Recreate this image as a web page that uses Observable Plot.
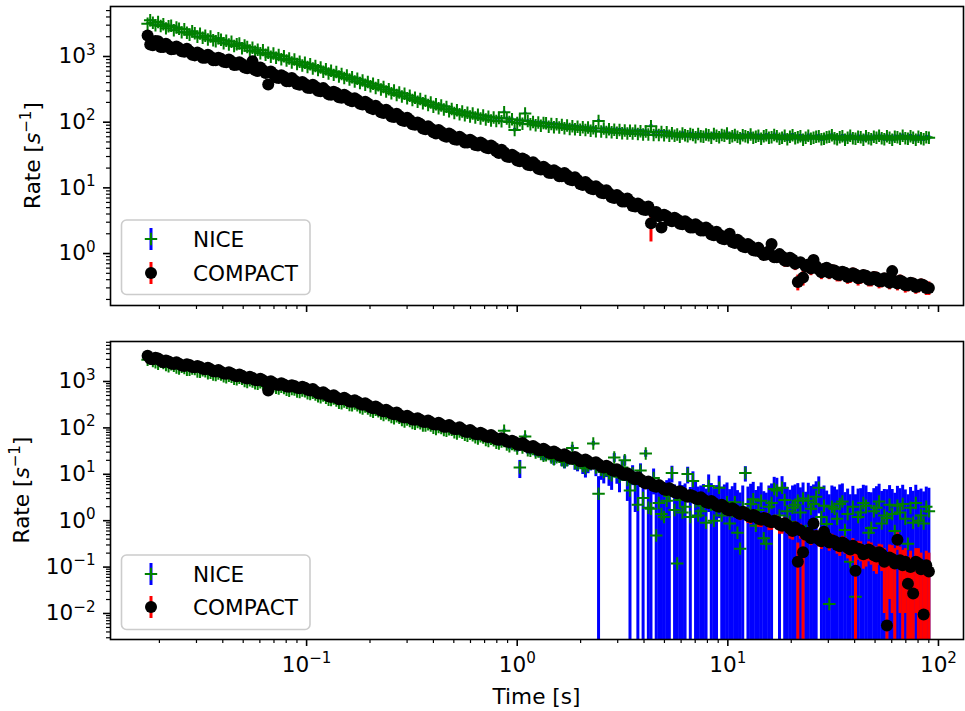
<!DOCTYPE html>
<html><head><meta charset="utf-8">
<script src="https://cdn.jsdelivr.net/npm/d3@7"></script>
<script src="https://cdn.jsdelivr.net/npm/@observablehq/plot@0.6"></script>
<style>
html,body{margin:0;padding:0;background:#fff;}
#chart{position:relative;width:965px;height:711px;}
#chart svg{display:block;}
</style></head><body><div id="chart"></div>
<script>
// ---------- data ----------
const times = [
0.01758,0.01809,0.01862,0.01916,0.01972,0.02029,0.02088,0.02149,0.02211,0.02275,
0.02342,0.02410,0.02480,0.02552,0.02626,0.02702,0.02781,0.02862,0.02945,0.03031,
0.03119,0.03210,0.03303,0.03399,0.03498,0.03600,0.03704,0.03812,0.03923,0.04037,
0.04154,0.04275,0.04399,0.04527,0.04659,0.04794,0.04934,0.05077,0.05225,0.05377,
0.05533,0.05694,0.05860,0.06030,0.06205,0.06385,0.06572,0.06763,0.06959,0.07161,
0.07370,0.07584,0.07805,0.08032,0.08265,0.08505,0.08753,0.09008,0.09269,0.09539,
0.09816,0.1010,0.1040,0.1070,0.1101,0.1133,0.1166,0.1200,0.1235,0.1271,
0.1307,0.1345,0.1384,0.1424,0.1466,0.1509,0.1553,0.1598,0.1644,0.1692,
0.1741,0.1792,0.1844,0.1898,0.1953,0.2010,0.2068,0.2128,0.2190,0.2254,
0.2319,0.2386,0.2456,0.2527,0.2601,0.2677,0.2754,0.2834,0.2917,0.3002,
0.3089,0.3179,0.3271,0.3366,0.3464,0.3565,0.3668,0.3775,0.3885,0.3998,
0.4114,0.4234,0.4357,0.4484,0.4614,0.4748,0.4886,0.5028,0.5174,0.5324,
0.5480,0.5639,0.5803,0.5972,0.6145,0.6324,0.6508,0.6697,0.6892,0.7092,
0.7299,0.7511,0.7729,0.7954,0.8185,0.8423,0.8668,0.8920,0.9180,0.9447,
0.9721,1.000,1.029,1.059,1.090,1.122,1.155,1.189,1.223,1.259,
1.295,1.333,1.371,1.411,1.452,1.494,1.538,1.583,1.629,1.676,
1.725,1.775,1.827,1.880,1.934,1.990,2.048,2.108,2.169,2.232,
2.297,2.364,2.433,2.504,2.576,2.651,2.728,2.807,2.889,2.973,
3.060,3.149,3.240,3.334,3.431,3.531,3.634,3.740,3.848,3.960,
4.075,4.194,4.316,4.442,4.570,4.703,4.840,4.981,5.126,5.275,
5.428,5.586,5.749,5.916,6.088,6.265,6.447,6.634,6.828,7.027,
7.230,7.440,7.657,7.880,8.109,8.345,8.587,8.837,9.094,9.358,
9.630,9.910,10.20,10.50,10.80,11.11,11.44,11.77,12.11,12.46,
12.83,13.20,13.58,13.97,14.39,14.81,15.23,15.67,16.13,16.60,
17.09,17.59,18.09,18.62,19.16,19.72,20.29,20.88,21.49,22.11,
22.76,23.42,24.10,24.80,25.52,26.26,27.03,27.82,28.62,29.45,
30.31,31.19,32.10,33.03,33.99,34.98,36.00,37.05,38.12,39.23,
40.37,41.54,42.75,43.99,45.28,46.60,47.95,49.34,50.78,52.26,
53.77,55.33,56.94,58.60,60.30,62.05,63.86,65.72,67.63,69.60,
71.62,73.70,75.84,78.05,80.32,82.66,85.06,87.53,
90.08];

// top panel, NICE (green +, blue error bars)
const niceTop = [
3150,3560,3270,2980,3340,2910,3100,2680,2890,2940,
2500,2760,2640,2330,2600,2290,2150,2420,2260,1990,
2230,1930,2070,1810,2010,1770,1700,1890,1800,1590,
1740,1520,1680,1450,1530,1580,1330,1470,1390,1220,
1360,1180,1270,1120,1250,1060,1140,990,1110,960,
1050,910,1010,870,930,810,900,770,830,730,
800,690,760,655,715,620,680,585,640,550,
605,525,580,495,540,470,515,445,485,415,
460,395,430,372,410,352,384,332,365,314,
342,293,318,276,304,260,284,246,271,232,
253,217,236,205,226,194,211,183,200,172,
188,163,179,156,171,146,159,138,152,132,
145,127,139,122,136,118,130,114,126,110,
121,106,118,104,116,103,142,114,101,111,
76,97,107,95,136,104,93,101,90,99,
88,97,96,85,94,84,93,83,91,81,
89,79,87,78,85,77,84,76,83,74,
81,73,104,72,80,71,78,70,77,69,
76,68,75,67,74,67,74,66,73,65,
72,65,87,64,71,64,71,63,70,62,
68,62,65,60,67,63,61,66,64,59,
66,61,60,65,63,58,66,62,59,64,
62,67,58,61,64,60,57,63,61,59,
65,58,60,62,56,61,63,58,59,64,
61,56,58,62,55,60,63,57,59,61,
54,58,62,56,58,60,61,55,56,59,
60,63,57,55,59,61,54,58,62,57,
56,60,59,54,61,57,55,60,58,62,
57,55,61,58,54,60,59,56,62,57,
56,61,58,54,60,57,55,59,
58];
const niceTopErr = [
80,80,86,86,75,75,77,77,65,65,
71,71,64,64,66,66,54,54,56,56,
50,50,53,53,46,46,47,47,40,40,
44,44,39,39,41,41,33,33,35,35,
30,30,33,33,28,28,28,28,24,24,
26,26,23,23,24,24,20,20,20,20,
18,18,19,19,16,16,17,17,14,14,
15,15,14,14,14,14,12,12,12,12,
10.5,10.5,11,11,9.5,9.5,9.5,9.5,8.5,8.5,
9,9,8,8,8,8,7,7,7.2,7.2,
6.5,6.5,6.8,6.8,6.2,6.2,6.2,6.2,5.8,5.8,
6,6,5.6,5.6,5.7,5.7,5.3,5.3,5.4,5.4,
5.2,5.2,5.3,5.3,5.1,5.1,5.1,5.1,5.0,5.0,
5.0,5.0,4.9,4.9,4.9,4.9,5.2,5.2,4.8,4.8,
4.6,4.6,4.8,4.8,5.0,5.0,4.7,4.7,4.7,4.7,
4.6,4.6,4.7,4.7,4.6,4.6,4.7,4.7,4.5,4.5,
4.6,4.6,4.5,4.5,4.6,4.6,4.5,4.5,4.5,4.5,
4.4,4.4,4.8,4.8,4.4,4.4,4.5,4.5,4.4,4.4,
4.4,4.3,4.3,4.4,4.4,4.3,4.3,4.2,4.3,4.4,
4.4,4.3,4.6,4.3,4.3,4.2,4.2,4.3,4.3,4.2,
4.3,4.2,4.2,4.1,4.3,4.2,4.2,4.3,4.3,4.1,
4.2,4.1,4.1,4.2,4.2,4.1,4.1,4.2,4.2,4.1,
4.2,4.3,4.1,4.1,4.2,4.1,4.1,4.2,4.1,4.1,
4.2,4.1,4.1,4.1,4.0,4.1,4.2,4.1,4.1,4.2,
4.1,4.0,4.0,4.1,4.1,4.2,4.2,4.1,4.1,4.1,
4.0,4.1,4.1,4.0,4.1,4.1,4.1,4.0,4.0,4.1,
4.1,4.1,4.2,4.0,4.0,4.1,4.1,4.0,4.1,4.1,
4.0,4.1,4.1,4.0,4.1,4.1,4.0,4.1,4.1,4.0,
4.0,4.1,4.1,4.0,4.0,4.1,4.1,4.0,4.2,4.1,
4.0,4.1,4.1,4.0,4.0,4.1,4.1,4.0,
4.1];

// top panel, COMPACT (black dots, red error bars)
const compactTop = [
2090,1520,1480,1720,1700,1390,1400,1560,1450,1290,
1300,1420,1340,1200,1180,1310,1200,1060,1040,1150,
1080,960,960,1060,990,880,880,960,920,830,
820,900,840,740,750,820,770,680,660,730,
850,620,600,680,620,560,375,590,540,480,
470,520,490,420,420,470,430,380,370,410,
380,335,330,370,345,300,295,330,300,265,
262,290,278,240,236,262,245,215,208,232,
218,190,186,205,192,165,158,178,163,142,
138,155,143,122,120,134,124,107,104,117,
108,93,91,99,94,80,78,87,80,70,
67,76,71,62,60,67,63,55,54,60,
56,49,49,54,51,45,44,49,46,41,
40,44,41,36,34,38,35,30,29.5,32,
30,26,25.5,28,26.5,22.5,22,24.5,22.5,19.5,
19,21,19.6,17,16.9,18.5,17.5,15,15.0,16.8,
15.6,13.4,13.1,14.5,13.2,11.4,11.1,12.3,11.3,9.8,
9.5,10.6,9.8,8.4,8.3,9.2,8.3,7.2,7.0,7.8,
7.2,6.2,6.2,6.9,6.2,5.3,5.2,5.8,5.4,4.7,
4.6,5.2,2.9,4.2,4.3,3.7,2.5,3.9,3.7,3.2,
3.1,3.5,3.3,2.85,2.8,3.1,2.9,2.5,2.5,2.8,
2.6,2.25,2.25,2.5,2.3,1.95,1.9,2.15,1.95,1.7,
1.65,1.85,2.0,1.5,1.45,1.62,1.5,1.28,1.25,1.4,
1.3,1.12,1.1,1.22,1.05,0.95,0.97,1.08,1.4,0.88,
0.88,0.98,0.9,0.78,0.77,0.86,0.81,0.7,0.37,0.74,
0.43,0.64,0.68,0.59,0.80,0.64,0.57,0.52,0.58,0.61,
0.51,0.56,0.55,0.48,0.47,0.53,0.51,0.44,0.45,0.5,
0.48,0.42,0.43,0.47,0.46,0.4,0.40,0.44,0.43,0.38,
0.38,0.42,0.41,0.36,0.54,0.38,0.35,0.39,0.37,0.33,
0.33,0.36,0.35,0.31,0.32,0.34,0.33,0.3,
0.30];
const compactTopErr = [
60,60,45,45,50,50,42,42,43,43,
39,39,40,40,36,36,36,36,32,32,
33,33,29,29,30,30,27,27,28,28,
25,25,26,26,23,23,24,24,20,20,
26,20,19,19,19,19,12,18,17,17,
15,15,15,15,13,13,13,13,12,12,
12,12,10.5,10.5,11,11,9.5,9.5,9.6,9.6,
8.5,8.5,9,9,7.7,7.7,8,8,6.8,6.8,
7.2,7.2,6.2,6.2,6.4,6.4,5.3,5.3,5.5,5.5,
4.7,4.7,4.9,4.9,4.2,4.2,4.3,4.3,3.7,3.7,
3.8,3.8,3.3,3.3,3.4,3.4,2.9,2.9,3.0,3.0,
2.6,2.6,2.7,2.7,2.3,2.3,2.5,2.5,2.2,2.2,
2.3,2.3,2.0,2.0,2.1,2.1,1.9,1.9,2.0,2.0,
1.8,1.8,1.8,1.8,1.6,1.6,1.6,1.6,1.4,1.4,
1.5,1.5,1.3,1.3,1.4,1.4,1.2,1.2,1.2,1.2,
1.1,1.1,1.1,1.1,1.0,1.0,1.0,1.0,0.9,0.9,
0.95,0.95,0.85,0.85,0.85,0.85,0.75,0.75,0.75,0.75,
0.68,0.68,0.7,0.7,0.62,0.62,0.62,0.62,0.55,0.55,
0.57,0.57,0.5,0.5,0.5,0.5,0.45,0.45,0.46,0.46,
0.42,0.42,1.4,0.42,0.4,0.4,0.35,0.35,0.37,0.37,
0.33,0.33,0.34,0.34,0.31,0.31,0.32,0.32,0.29,0.29,
0.3,0.3,0.27,0.27,0.28,0.28,0.25,0.25,0.25,0.25,
0.23,0.23,0.26,0.26,0.21,0.21,0.22,0.22,0.19,0.19,
0.2,0.2,0.18,0.18,0.17,0.17,0.17,0.17,0.22,0.17,
0.16,0.16,0.16,0.16,0.15,0.15,0.15,0.15,0.1,0.13,
0.11,0.13,0.13,0.13,0.14,0.14,0.12,0.12,0.12,0.12,
0.11,0.11,0.11,0.11,0.1,0.1,0.1,0.1,0.1,0.1,
0.1,0.1,0.09,0.09,0.09,0.09,0.09,0.09,0.09,0.09,
0.08,0.08,0.08,0.08,0.1,0.08,0.08,0.08,0.08,0.08,
0.07,0.07,0.07,0.07,0.07,0.07,0.07,0.07,
0.07];

// bottom panel, NICE
const niceBot = [
2950,3100,2750,2600,2400,2650,2510,2280,2140,2350,
2190,2000,1900,2080,1950,1780,1780,1900,1860,1640,
1620,1750,1660,1500,1550,1420,1380,1490,1410,1290,
1230,1330,1260,1140,1120,1210,1150,1030,980,1070,
1000,920,890,960,890,810,810,860,795,730,
710,770,725,660,630,690,676,610,590,640,
617,560,537,570,525,480,457,500,447,405,
398,430,389,350,339,370,347,312,309,335,
309,280,263,290,263,236,224,245,229,205,
190,208,190,172,162,178,166,148,138,152,
141,128,123,134,126,113,112,120,112,101,
95,104,100,90,87,94,91,81,76,84,
79,71,68,75,69,63,59,66,62,55,
52,58,54,48,46,51,87,44,40,45,
42,36,14,38,65,33,32,35,29.5,31,
27.5,25,25.7,28,23,21,23.4,26,20,18.5,
20,22,37,17.5,16.6,19,15.1,13.5,15.5,17,
46,14,3.8,12.5,11.2,13.5,10.5,9.5,23,11,
8.9,14,20,7.5,4.5,10.5,6.3,2.2,12,3.1,
28,1.9,1.8,8.3,0.48,2.4,1.4,1.2,2.7,3.4,
10.7,1.7,0.12,2.8,1.5,2.0,10.2,1.2,7.2,2.6,
1.3,1.6,2.1,0.9,5.6,2.2,1.0,1.8,5.1,1.3,
1.9,2.5,0.87,1.6,2.5,0.55,0.25,1.9,10.7,1.4,
2.3,2.9,0.78,1.7,2.7,0.42,0.32,2.0,2.4,4.8,
4.5,1.3,5.1,2.8,1.6,0.95,1.9,2.2,2.7,1.5,
3.0,0.6,2.7,1.8,2.3,3.3,5.1,1.2,2.1,0.85,
0.016,2.0,1.8,1.1,2.3,2.6,0.63,1.4,0.13,2.0,
0.023,1.2,1.5,2.4,2.1,0.55,0.7,1.6,1.9,2.6,
0.87,1.3,1.15,2.2,1.4,0.6,2.1,1.5,2.3,1.1,
0.32,1.9,0.9,2.4,1.0,1.3,0.87,2.0,
1.6];
const niceBotErr = [
33,33,32,32,30,30,30,30,28,28,
29,29,27,27,27,27,26,26,26,26,
25,25,25,25,24,24,23,23,23,23,
22,22,22,22,21,21,21,21,20,20,
20,20,19,19,19,19,18,18,18,18,
17,17,17,17,16,16,16,16,15.5,15.5,
15.5,15.5,15,15,14.5,14.5,14,14,13.5,13.5,
13,13,13,13,12.5,12.5,12.5,12.5,12,12,
12,12,11,11,11,11,10.5,10.5,10.5,10.5,
10,10,10,10,9.5,9.5,9.5,9.5,9,9,
9,9,8.5,8.5,8.5,8.5,8.2,8.2,8.2,8.2,
7.8,7.8,7.8,7.8,7.5,7.5,7.5,7.5,7.2,7.2,
7.2,7.2,7,7,7,7,6.7,6.7,6.7,6.7,
6.5,6.5,6.5,6.5,6.3,6.3,6.3,6.3,6.1,6.1,
6.1,6.1,5.9,5.9,5.9,5.9,5.8,5.8,5.8,5.8,
5.6,5.6,5.6,5.6,5.5,5.5,5.5,5.5,5.4,5.4,
5.4,5.4,5.3,5.3,5.3,5.3,5.2,5.2,5.2,5.2,
5.1,5.1,5.1,5.1,5.0,5.0,5.0,5.0,4.9,4.9,
4.9,4.9,4.9,4.9,4.8,4.8,4.8,4.8,4.8,4.8,
4.7,4.7,4.7,4.7,4.7,4.7,4.6,4.6,4.6,4.6,
4.2,4.2,4.1,4.1,4.2,4.2,4.0,4.0,4.1,4.1,
4.0,4.0,3.9,3.9,4.1,4.1,3.9,3.9,4.0,4.0,
4.0,4.0,3.8,3.8,3.9,3.9,3.7,3.7,3.9,3.9,
3.8,3.8,3.7,3.7,3.8,3.8,3.6,3.6,3.8,3.8,
3.7,3.7,3.8,3.8,3.6,3.6,3.7,3.7,3.6,3.6,
3.5,3.5,3.7,3.7,3.6,3.6,3.7,3.7,3.5,3.5,
3.6,3.6,3.5,3.5,3.6,3.6,3.4,3.4,3.5,3.5,
3.6,3.6,3.4,3.4,3.5,3.5,3.3,3.3,3.5,3.5,
3.4,3.4,3.5,3.5,3.3,3.3,3.4,3.4,3.5,3.5,
3.3,3.3,3.4,3.4,3.5,3.5,3.3,3.3,
3.4];

// bottom panel, COMPACT
const compactBot = [
3600,3100,3000,3250,3150,2800,2600,2850,2700,2450,
2380,2600,2420,2200,2170,2350,2260,2050,2020,2150,
2060,1880,1840,1990,1830,1660,1640,1770,1630,1480,
1460,1580,1490,1340,1300,1420,1330,1200,1160,1260,
1190,1080,1060,1150,1060,960,640,1010,930,860,
840,920,860,780,770,830,800,730,715,770,
730,660,640,690,620,560,545,590,530,480,
465,505,460,415,412,445,410,370,368,395,
366,330,314,340,311,280,266,290,265,238,
227,247,226,204,198,214,192,173,168,182,
167,152,150,162,149,135,134,145,133,120,
119,129,118,106,106,115,105,95,95,103,
94,84,82,90,82,74,73,79,73,65,
64,70,64,57,55.5,60,57,51,49.5,53,
49.5,44,43,47,43,38.5,37.6,40.5,37.5,33.5,
32.8,35.5,32.6,29,28.5,31,28.4,25.5,24.8,27,
24.8,22,21.6,23.5,21.6,19.2,19.3,20.8,19.2,17,
16.8,18.2,16.4,14.6,14.0,15.3,14.1,12.4,11.8,12.9,
11.7,10.2,9.6,10.5,9.5,8.3,7.8,8.6,7.7,6.8,
6.3,7.0,6.3,5.6,5.4,5.9,5.3,4.7,4.6,5.0,
4.6,4.1,3.9,4.3,4.0,3.5,3.3,3.6,3.4,3.0,
2.9,3.2,2.85,2.5,2.4,2.65,2.4,2.1,2.0,2.2,
2.0,1.75,1.65,1.85,1.7,1.5,1.4,1.55,1.45,1.28,
1.2,1.32,1.25,1.1,1.05,1.15,1.1,0.96,0.92,1.0,
0.95,0.82,0.78,0.88,0.8,0.68,0.6,0.72,0.13,0.62,
0.21,0.5,0.55,0.42,0.87,0.47,0.40,0.36,0.58,0.44,
0.34,0.38,0.36,0.3,0.28,0.34,0.31,0.26,0.24,0.29,
0.083,0.25,0.24,0.19,0.2,0.24,0.22,0.18,0.17,0.21,
0.19,0.13,0.0055,0.16,0.15,0.12,0.39,0.14,0.11,0.13,
0.044,0.1,0.027,0.13,0.12,0.09,0.0095,0.11,
0.08];
const compactBotErr = [
60,60,55,55,57,57,50,50,51,51,
47,47,48,48,44,44,45,45,42,42,
42,42,39,39,39,39,36,36,36,36,
33,33,34,34,31,31,31,31,28,28,
29,29,27,27,27,27,21,27,25,25,
23,23,23,23,22,22,22,22,20,20,
21,21,19,19,19,19,17,17,17,17,
15,15,15,15,14,14,14,14,13,13,
13,13,11.5,11.5,11.5,11.5,10.5,10.5,10.5,10.5,
9.5,9.5,9.5,9.5,8.7,8.7,8.5,8.5,7.8,7.8,
7.8,7.8,7.2,7.2,7.2,7.2,6.6,6.6,6.6,6.6,
6.1,6.1,6.1,6.1,5.6,5.6,5.6,5.6,5.2,5.2,
5.2,5.2,4.7,4.7,4.7,4.7,4.3,4.3,4.3,4.3,
3.9,3.9,3.9,3.9,3.5,3.5,3.6,3.6,3.2,3.2,
3.2,3.2,2.9,2.9,2.9,2.9,2.6,2.6,2.6,2.6,
2.4,2.4,2.4,2.4,2.2,2.2,2.2,2.2,2.0,2.0,
2.0,2.0,1.8,1.8,1.8,1.8,1.7,1.7,1.7,1.7,
1.5,1.5,1.5,1.5,1.4,1.4,1.4,1.4,1.25,1.25,
1.25,1.25,1.1,1.1,1.1,1.1,1.0,1.0,1.0,1.0,
0.9,0.9,0.9,0.9,0.82,0.82,0.82,0.82,0.75,0.75,
0.75,0.75,0.68,0.68,0.7,0.7,0.62,0.62,0.63,0.63,
0.57,0.57,0.57,0.57,0.52,0.52,0.52,0.52,0.47,0.47,
0.47,0.47,0.43,0.43,0.44,0.44,0.4,0.4,0.41,0.41,
0.37,0.37,0.38,0.38,0.34,0.34,0.35,0.35,0.3,0.3,
0.31,0.31,0.27,0.27,0.28,0.28,0.22,0.22,0.2,0.22,
0.22,0.15,0.15,0.13,0.2,0.14,0.13,0.12,0.16,0.13,
0.12,0.13,0.12,0.11,0.11,0.12,0.12,0.11,0.11,0.12,
0.12,0.11,0.11,0.1,0.1,0.11,0.11,0.1,0.1,0.1,
0.11,0.12,0.13,0.14,0.14,0.13,0.16,0.13,0.12,0.12,
0.12,0.12,0.11,0.12,0.13,0.11,0.11,0.11,
0.12];

const seriesNames = ["NICE", "COMPACT"];
const xMajorTicks = [0.1, 1, 10, 100];
const yMajorTop = [1, 10, 100, 1000];
const yMajorBot = [0.01, 0.1, 1, 10, 100, 1000];
const xLabel = "Time [s]";

// ---------- layout ----------
const W = 965;
const FONT = "DejaVu Sans";
const FS = 21.6;
const xDomain = [0.01172, 131.5];

function minorTicks(lo, hi) {
  const out = [];
  for (let e = Math.floor(Math.log10(lo)); e <= Math.ceil(Math.log10(hi)); e++)
    for (let m = 2; m <= 9; m++) { const v = m * Math.pow(10, e); if (v >= lo && v <= hi) out.push(v); }
  return out;
}
const expFmt = d => "10^" + Math.round(Math.log10(d));

function panel(cfg) {
  const {nice, niceErr, compact, compactErr, yDomain, yMajor, height, marginTop, marginBottom, xLabels} = cfg;
  const yMin = yDomain[0];
  const dn = times.map((t, i) => ({t, v: nice[i], lo: Math.max(nice[i] - niceErr[i], yMin), hi: nice[i] + niceErr[i]}));
  const dc = times.map((t, i) => ({t, v: compact[i], lo: Math.max(compact[i] - compactErr[i], yMin), hi: compact[i] + compactErr[i]}));
  return Plot.plot({
    width: W, height, marginLeft: 110, marginRight: 2, marginTop, marginBottom,
    style: {fontFamily: FONT, fontSize: FS + "px", color: "black", background: "white"},
    x: {type: "log", domain: xDomain, label: null},
    y: {type: "log", domain: yDomain, label: null},
    marks: [
      Plot.ruleX(dn, {x: "t", y1: "lo", y2: "hi", stroke: "blue", strokeWidth: 3, clip: true}),
      Plot.dot(dn, {x: "t", y: "v", symbol: "plus", r: 4.1, stroke: "green", strokeWidth: 2, clip: true}),
      Plot.ruleX(dc, {x: "t", y1: "lo", y2: "hi", stroke: "red", strokeWidth: 3, clip: true}),
      Plot.dot(dc, {x: "t", y: "v", r: 6, fill: "black", stroke: "none", clip: true}),
      Plot.frame({stroke: "black", strokeWidth: 1.6}),
      Plot.axisY({ticks: minorTicks(yDomain[0], yDomain[1]), tickSize: 4, strokeWidth: 1.2, tickFormat: () => "", label: null}),
      Plot.axisY({ticks: yMajor, tickSize: 7, strokeWidth: 1.6, tickPadding: 8, tickFormat: expFmt, label: null}),
      Plot.axisX({ticks: minorTicks(xDomain[0], xDomain[1]), tickSize: 4, strokeWidth: 1.2, tickFormat: () => "", label: null}),
      Plot.axisX({ticks: xMajorTicks, tickSize: 7, strokeWidth: 1.6, tickPadding: 10, tickFormat: xLabels ? expFmt : () => "", label: null})
    ]
  });
}

function superscripts(svg) {
  d3.select(svg).selectAll("text").each(function() {
    const m = /^10\^(-?\d+)$/.exec(this.textContent);
    if (!m) return;
    const sel = d3.select(this);
    sel.text(null);
    sel.append("tspan").text("10");
    sel.append("tspan").attr("dy", -8.8).attr("font-size", FS * 0.7).text(m[1].replace("-", "\u2212"));
  });
}

function yLabel(svg, x, y) {
  const t = d3.select(svg).append("text")
    .attr("transform", `translate(${x},${y}) rotate(-90)`)
    .attr("text-anchor", "middle").attr("font-family", FONT).attr("font-size", FS).attr("fill", "black");
  t.append("tspan").text("Rate [");
  t.append("tspan").attr("font-style", "italic").text("s");
  t.append("tspan").attr("dy", -8.8).attr("font-size", FS * 0.7).text("\u22121");
  t.append("tspan").attr("dy", 8.8).text("]");
}

function legend(svg, y0, rowGap) {
  const g = d3.select(svg).append("g").attr("font-family", FONT).attr("font-size", FS).attr("text-anchor", "start");
  g.append("rect").attr("x", 121.5).attr("y", y0).attr("width", 188.5).attr("height", 74.5).attr("rx", 5)
    .attr("fill", "white").attr("fill-opacity", 0.8).attr("stroke", "#cccccc").attr("stroke-width", 1.6);
  const r1 = y0 + 19, r2 = y0 + 19 + rowGap, mx = 151;
  g.append("line").attr("x1", mx).attr("x2", mx).attr("y1", r1 - 11).attr("y2", r1 + 11).attr("stroke", "blue").attr("stroke-width", 3);
  g.append("path").attr("d", `M${mx - 6.2},${r1}H${mx + 6.2}M${mx},${r1 - 6.2}V${r1 + 6.2}`)
    .attr("stroke", "green").attr("stroke-width", 2).attr("fill", "none");
  g.append("text").attr("x", 193).attr("y", r1 + 7.8).attr("text-anchor", "start").attr("fill", "black").text(seriesNames[0]);
  g.append("line").attr("x1", mx).attr("x2", mx).attr("y1", r2 - 11).attr("y2", r2 + 11).attr("stroke", "red").attr("stroke-width", 3);
  g.append("circle").attr("cx", mx).attr("cy", r2).attr("r", 6).attr("fill", "black");
  g.append("text").attr("x", 193).attr("y", r2 + 7.8).attr("text-anchor", "start").attr("fill", "black").text(seriesNames[1]);
}

const chartDiv = document.getElementById("chart");

const topSvg = panel({nice: niceTop, niceErr: niceTopErr, compact: compactTop, compactErr: compactTopErr,
  yDomain: [0.1618, 5770], yMajor: yMajorTop, height: 320, marginTop: 6, marginBottom: 15, xLabels: false});
superscripts(topSvg);
yLabel(topSvg, 40, 155.5);
legend(topSvg, 220, 34);
chartDiv.appendChild(topSvg);

const botSvg = panel({nice: niceBot, niceErr: niceBotErr, compact: compactBot, compactErr: compactBotErr,
  yDomain: [0.00275, 7280], yMajor: yMajorBot, height: 391, marginTop: 21, marginBottom: 72, xLabels: true});
superscripts(botSvg);
yLabel(botSvg, 29, 170);
legend(botSvg, 235, 33);
d3.select(botSvg).append("text").attr("x", 536.5).attr("y", 383.5).attr("text-anchor", "middle")
  .attr("font-family", FONT).attr("font-size", FS).attr("fill", "black").text(xLabel);
chartDiv.appendChild(botSvg);
</script>
</body></html>
